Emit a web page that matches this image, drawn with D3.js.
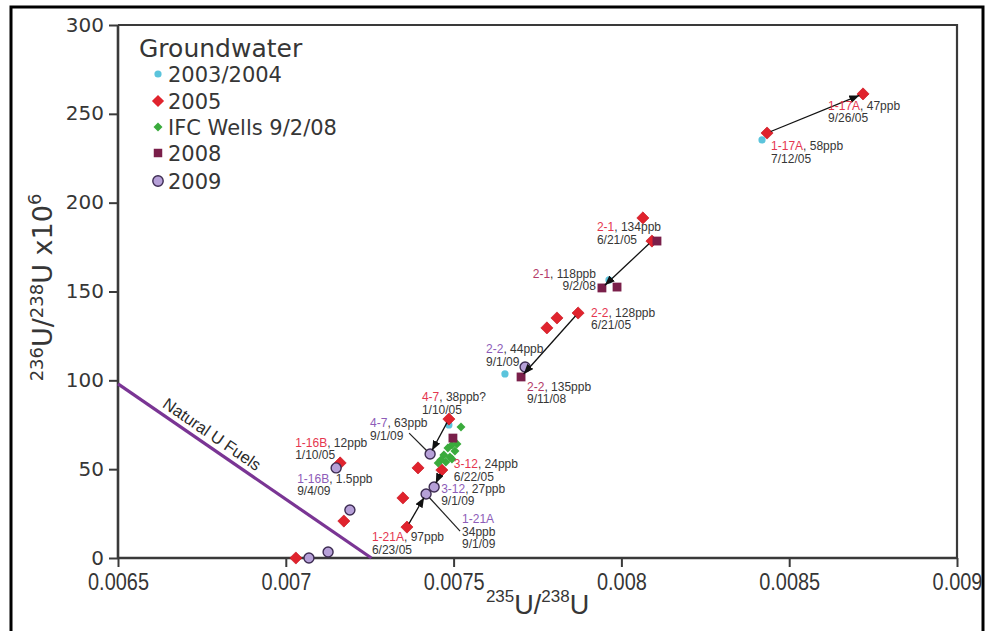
<!DOCTYPE html>
<html>
<head>
<meta charset="utf-8">
<script src="https://cdn.jsdelivr.net/npm/d3@7"></script>
<style>
  html, body { margin: 0; padding: 0; background: #fff; }
  svg { display: block; }
</style>
</head>
<body>
<svg id="chart" width="989" height="631"></svg>
<script>
// ---- axis ticks ----
const xTicks = [0.0065, 0.007, 0.0075, 0.008, 0.0085, 0.009];
const yTicks = [0, 50, 100, 150, 200, 250, 300];

// ---- groundwater samples: [235U/238U, 236U/238U x10^6] ----
const gw2003_2004 = [
  [0.008419, 235.3],
  [0.007653, 103.6],
  [0.007963, 156.5],
  [0.007486, 74.9]
];
const gw2005 = [
  [0.008720, 261.2],  // 1-17A 9/26/05
  [0.008434, 239.2],  // 1-17A 7/12/05
  [0.008064, 191.4],
  [0.008091, 178.4],  // 2-1 6/21/05
  [0.007871, 137.9],  // 2-2 6/21/05
  [0.007808, 135.1],
  [0.007778, 129.5],
  [0.007486, 78.2],   // 4-7 1/10/05
  [0.007465, 49.5],   // 3-12 6/22/05
  [0.007394, 50.7],
  [0.007349, 33.8],
  [0.007361, 17.4],   // 1-21A 6/23/05
  [0.007173, 20.8],
  [0.007162, 53.5],   // 1-16B 1/10/05
  [0.007030, 0.0]
];
const ifcWells = [
  [0.007522, 73.7],
  [0.007510, 64.2],
  [0.007495, 63.6],
  [0.007483, 61.9],
  [0.007504, 60.2],
  [0.007471, 58.0],
  [0.007489, 56.8],
  [0.007462, 55.2],
  [0.007477, 54.0],
  [0.007454, 53.5],
  [0.007495, 55.7]
];
const gw2008 = [
  [0.007498, 67.5],
  [0.007701, 101.9],  // 2-2 9/11/08
  [0.007942, 152.0],  // 2-1 9/2/08
  [0.007987, 152.5],
  [0.008106, 178.4]
];
const gw2009 = [
  [0.007713, 107.5],  // 2-2 9/1/09
  [0.007430, 58.5],   // 4-7 9/1/09
  [0.007442, 40.0],   // 3-12 9/1/09
  [0.007418, 36.0],   // 1-21A 9/1/09
  [0.007150, 50.7],   // 1-16B 9/4/09
  [0.007191, 27.0],
  [0.007126, 3.4],
  [0.007069, 0.0]
];
const naturalUFuels = [[0.0065, 98], [0.007255, 0]];

const legendTitle = "Groundwater";
const legendLabels = ["2003/2004", "2005", "IFC Wells 9/2/08", "2008", "2009"];

// ---- styling ----
const COL = {
  cyan: "#5bc4dc", red: "#e0232d", green: "#3aab3c", maroon: "#7a1f4a",
  purpleFill: "#b6a0d8", purpleStroke: "#3d2c52", line: "#7a3594",
  axis: "#3a3a3a", text: "#363636"
};
const siteColor = { "2005": "#e5364f", "2008": "#b33a68", "2009": "#8d5cb8" };

const svg = d3.select("#chart");
const x = d3.scaleLinear().domain([0.0065, 0.009]).range([118, 957]);
const y = d3.scaleLinear().domain([0, 300]).range([558, 25]);

// outer frame
svg.append("rect").attr("x", 11).attr("y", 7).attr("width", 972).attr("height", 700)
  .attr("fill", "none").attr("stroke", "#000").attr("stroke-width", 3);

// plot box (top and right)
svg.append("path")
  .attr("d", `M${x(0.0065)},${y(300)}H${x(0.009)}V${y(0)}`)
  .attr("fill", "none").attr("stroke", COL.axis).attr("stroke-width", 2.2);

// axes
const xAxis = d3.axisBottom(x).tickValues(xTicks).tickFormat(d3.format("")).tickSize(9).tickSizeOuter(0).tickPadding(6);
const yAxis = d3.axisLeft(y).tickValues(yTicks).tickSize(9).tickSizeOuter(0).tickPadding(5);

const gx = svg.append("g").attr("transform", `translate(0,${y(0)})`).call(xAxis);
gx.select(".domain").attr("stroke", COL.axis).attr("stroke-width", 2.6)
  .attr("d", `M${x(0.0065)},0H${x(0.009)}`);
gx.selectAll(".tick line").attr("stroke", COL.axis).attr("stroke-width", 2);
gx.selectAll(".tick text").attr("fill", COL.text)
  .attr("transform", "scale(0.83,1)")
  .style("font-family", "'Liberation Sans', Arial, sans-serif")
  .style("font-size", "24px");

const gy = svg.append("g").attr("transform", `translate(${x(0.0065)},0)`).call(yAxis);
gy.select(".domain").attr("stroke", COL.axis).attr("stroke-width", 2.6)
  .attr("d", `M0,${y(0) + 1}V${y(300)}`);
gy.selectAll(".tick line").attr("stroke", COL.axis).attr("stroke-width", 2);
gy.selectAll(".tick text").attr("fill", COL.text)
  .attr("dy", "0.3em")
  .style("font-family", "'DejaVu Sans', Verdana, sans-serif")
  .style("font-size", "20px");

// axis titles
const xt = svg.append("text").attr("x", (x(0.0065) + x(0.009)) / 2).attr("y", 614)
  .attr("text-anchor", "middle").attr("fill", COL.text)
  .style("font-family", "'Liberation Sans', Arial, sans-serif").style("font-size", "27px");
xt.append("tspan").text("235").style("font-size", "17px").attr("dy", -12);
xt.append("tspan").text("U/").attr("dy", 12);
xt.append("tspan").text("238").style("font-size", "17px").attr("dy", -12);
xt.append("tspan").text("U").attr("dy", 12);

const yt = svg.append("text")
  .attr("transform", `translate(52,${(y(0) + y(300)) / 2 - 4}) rotate(-90)`)
  .attr("text-anchor", "middle").attr("fill", COL.text)
  .style("font-family", "'DejaVu Sans', Verdana, sans-serif").style("font-size", "27px");
yt.append("tspan").text("236").style("font-size", "18px").attr("dy", -9);
yt.append("tspan").text("U/").attr("dy", 9);
yt.append("tspan").text("238").style("font-size", "18px").attr("dy", -9);
yt.append("tspan").text("U x10").attr("dy", 9);
yt.append("tspan").text("6").style("font-size", "18px").attr("dy", -11);

// natural U fuels line
const fuelLine = d3.line().x(d => x(d[0])).y(d => y(d[1]));
svg.append("path").datum(naturalUFuels).attr("d", fuelLine)
  .attr("fill", "none").attr("stroke", COL.line).attr("stroke-width", 3.2);
{
  const p0 = [x(naturalUFuels[0][0]), y(naturalUFuels[0][1])];
  const p1 = [x(naturalUFuels[1][0]), y(naturalUFuels[1][1])];
  const ang = Math.atan2(p1[1] - p0[1], p1[0] - p0[0]) * 180 / Math.PI;
  const t = 0.345;
  const cx = p0[0] + (p1[0] - p0[0]) * t, cy = p0[1] + (p1[1] - p0[1]) * t;
  svg.append("text").attr("transform", `translate(${cx},${cy}) rotate(${ang})`)
    .attr("dy", -6).attr("text-anchor", "middle").attr("fill", "#2a2a2a")
    .style("font-family", "'Liberation Sans', Arial, sans-serif").style("font-size", "16.5px")
    .text("Natural U Fuels");
}

// ---- markers ----
const diamond = s => d3.symbol(d3.symbolSquare, s)();
const plot = svg.append("g");

plot.selectAll(".c0304").data(gw2003_2004).join("circle")
  .attr("cx", d => x(d[0])).attr("cy", d => y(d[1])).attr("r", 3.6)
  .attr("fill", COL.cyan);

plot.selectAll(".r2005").data(gw2005).join("path")
  .attr("d", diamond(74))
  .attr("transform", d => `translate(${x(d[0])},${y(d[1])}) rotate(45)`)
  .attr("fill", COL.red).attr("stroke", "#c8141f").attr("stroke-width", 0.6);

plot.selectAll(".ifc").data(ifcWells).join("path")
  .attr("d", diamond(40))
  .attr("transform", d => `translate(${x(d[0])},${y(d[1])}) rotate(45)`)
  .attr("fill", COL.green);

plot.selectAll(".m2008").data(gw2008).join("path")
  .attr("d", diamond(78))
  .attr("transform", d => `translate(${x(d[0])},${y(d[1])})`)
  .attr("fill", COL.maroon);

plot.selectAll(".p2009").data(gw2009).join("circle")
  .attr("cx", d => x(d[0])).attr("cy", d => y(d[1])).attr("r", 5)
  .attr("fill", COL.purpleFill).attr("stroke", COL.purpleStroke).attr("stroke-width", 1.4);

// ---- arrows between repeat samples of the same well ----
svg.append("defs").append("marker")
  .attr("id", "head").attr("viewBox", "0 0 10 8").attr("refX", 10).attr("refY", 4)
  .attr("markerWidth", 10).attr("markerHeight", 8).attr("markerUnits", "userSpaceOnUse")
  .attr("orient", "auto")
  .append("path").attr("d", "M0,0L10,4L0,8Z").attr("fill", "#111");

const arrows = [
  { from: gw2005[1], to: gw2005[0] },
  { from: gw2005[3], to: gw2008[2] },
  { from: gw2005[4], to: gw2008[1] },
  { from: gw2005[7], to: gw2009[1] },
  { from: gw2005[8], to: gw2009[2] },
  { from: gw2005[11], to: gw2009[3] }
];
arrows.forEach(a => {
  const x0 = x(a.from[0]), y0 = y(a.from[1]), x1 = x(a.to[0]), y1 = y(a.to[1]);
  const L = Math.hypot(x1 - x0, y1 - y0), ux = (x1 - x0) / L, uy = (y1 - y0) / L;
  svg.append("line")
    .attr("x1", x0 + ux * 4).attr("y1", y0 + uy * 4)
    .attr("x2", x1 - ux * 4).attr("y2", y1 - uy * 4)
    .attr("stroke", "#111").attr("stroke-width", 1.3).attr("marker-end", "url(#head)");
});

// ---- well labels ----
const labels = [
  { pt: gw2005[0],  site: "1-17A", val: ", 47ppb",  lines: ["9/26/05"], yr: "2005", dx: -35, dy: 16 },
  { pt: gw2005[1],  site: "1-17A", val: ", 58ppb",  lines: ["7/12/05"], yr: "2005", dx: 4,   dy: 17 },
  { pt: gw2005[3],  site: "2-1",   val: ", 134ppb", lines: ["6/21/05"], yr: "2005", dx: -55, dy: -10 },
  { pt: gw2008[2],  site: "2-1",   val: ", 118ppb", lines: ["9/2/08"],  yr: "2008", dx: -6,  dy: -10, end: true },
  { pt: gw2005[4],  site: "2-2",   val: ", 128ppb", lines: ["6/21/05"], yr: "2005", dx: 13,  dy: 4 },
  { pt: gw2009[0],  site: "2-2",   val: ", 44ppb",  lines: ["9/1/09"],  yr: "2009", dx: -39, dy: -14 },
  { pt: gw2008[1],  site: "2-2",   val: ", 135ppb", lines: ["9/11/08"], yr: "2008", dx: 6,   dy: 14 },
  { pt: gw2005[7],  site: "4-7",   val: ", 38ppb?", lines: ["1/10/05"], yr: "2005", dx: -27, dy: -18 },
  { pt: gw2009[1],  site: "4-7",   val: ", 63ppb",  lines: ["9/1/09"],  yr: "2009", dx: -60, dy: -27, leader: [-21, -21] },
  { pt: gw2005[13], site: "1-16B", val: ", 12ppb",  lines: ["1/10/05"], yr: "2005", dx: -45, dy: -16 },
  { pt: gw2009[4],  site: "1-16B", val: ", 1.5ppb", lines: ["9/4/09"],  yr: "2009", dx: -39, dy: 15 },
  { pt: gw2005[8],  site: "3-12",  val: ", 24ppb",  lines: ["6/22/05"], yr: "2005", dx: 12,  dy: -2 },
  { pt: gw2009[2],  site: "3-12",  val: ", 27ppb",  lines: ["9/1/09"],  yr: "2009", dx: 7,   dy: 6 },
  { pt: gw2009[3],  site: "1-21A", val: "",         lines: ["34ppb", "9/1/09"], yr: "2009", dx: 36, dy: 29, leader: [34, 37] },
  { pt: gw2005[11], site: "1-21A", val: ", 97ppb",  lines: ["6/23/05"], yr: "2005", dx: -35, dy: 14 }
];

const lab = svg.append("g")
  .style("font-family", "'Liberation Sans', Arial, sans-serif").style("font-size", "12px");
labels.forEach(l => {
  const px = x(l.pt[0]), py = y(l.pt[1]);
  if (l.leader) {
    const lx = px + l.leader[0], ly = py + l.leader[1];
    const L = Math.hypot(lx - px, ly - py);
    lab.append("line")
      .attr("x1", px + (lx - px) / L * 5).attr("y1", py + (ly - py) / L * 5)
      .attr("x2", lx).attr("y2", ly)
      .attr("stroke", "#222").attr("stroke-width", 1.2);
  }
  const t = lab.append("text").attr("x", px + l.dx).attr("y", py + l.dy)
    .attr("text-anchor", l.end ? "end" : "start");
  t.append("tspan").text(l.site).attr("fill", siteColor[l.yr]);
  if (l.val) t.append("tspan").text(l.val).attr("fill", COL.text);
  l.lines.forEach((s, i) => {
    lab.append("text").attr("x", px + l.dx).attr("y", py + l.dy + 12.5 * (i + 1))
      .attr("text-anchor", l.end ? "end" : "start").attr("fill", COL.text).text(s);
  });
});

// ---- legend ----
const leg = svg.append("g");
leg.append("text").attr("x", 139).attr("y", 57).attr("fill", COL.text)
  .style("font-family", "'DejaVu Sans', Verdana, sans-serif").style("font-size", "25px")
  .text(legendTitle);
const legY = [74, 101, 127, 153, 181];
legendLabels.forEach((name, i) => {
  const cy = legY[i], cx = 158;
  if (i === 0) leg.append("circle").attr("cx", cx).attr("cy", cy).attr("r", 3.6).attr("fill", COL.cyan);
  if (i === 1) leg.append("path").attr("d", diamond(74)).attr("transform", `translate(${cx},${cy}) rotate(45)`).attr("fill", COL.red);
  if (i === 2) leg.append("path").attr("d", diamond(40)).attr("transform", `translate(${cx},${cy}) rotate(45)`).attr("fill", COL.green);
  if (i === 3) leg.append("path").attr("d", diamond(72)).attr("transform", `translate(${cx},${cy})`).attr("fill", COL.maroon);
  if (i === 4) leg.append("circle").attr("cx", cx).attr("cy", cy).attr("r", 5.2)
    .attr("fill", COL.purpleFill).attr("stroke", COL.purpleStroke).attr("stroke-width", 1.4);
  leg.append("text").attr("x", 168).attr("y", cy + 7.5).attr("fill", COL.text)
    .style("font-family", "'DejaVu Sans', Verdana, sans-serif").style("font-size", "21px")
    .text(name);
});
</script>
</body>
</html>
